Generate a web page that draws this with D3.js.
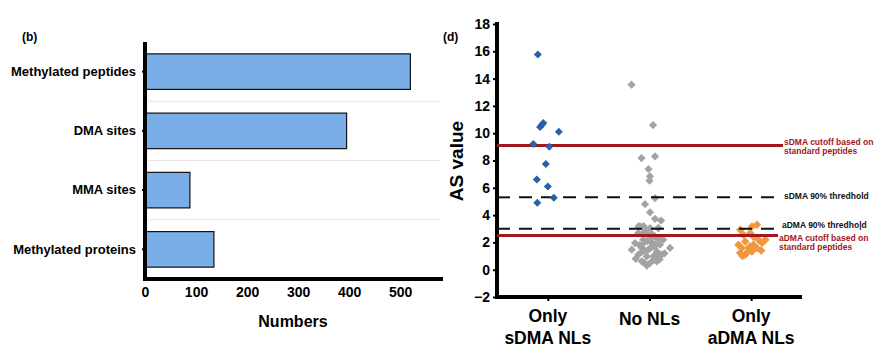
<!DOCTYPE html>
<meta charset="utf-8">
<script src="https://d3js.org/d3.v7.js"></script>
<style>
body { margin: 0; background: white; }
text { font-family: "Liberation Sans", Arial, sans-serif; font-weight: bold; }
</style>
<svg id="chart" width="881" height="349"></svg>
<script>
// panel (b)
var barCats = ["Methylated peptides", "DMA sites", "MMA sites", "Methylated proteins"];
var barVals = [520, 395, 88, 135];
var barTicks = [0, 100, 200, 300, 400, 500];

// panel (d)
var groups = ["Only sDMA NLs", "No NLs", "Only aDMA NLs"];
var groupLines = [["Only", "sDMA NLs"], ["No NLs"], ["Only", "aDMA NLs"]];
var asTicks = [-2, 0, 2, 4, 6, 8, 10, 12, 14, 16, 18];
var sdmaVals = [15.77, 10.45, 10.75, 10.6, 10.1, 9.2, 9.0, 7.74, 6.6, 6.1, 5.27, 4.9];
var sdmaJit  = [-0.4, -0.31, -0.18, -0.24, 0.44, -0.58, 0.06, -0.08, -0.44, 0, 0.24, -0.42];
var noneVals = [13.55, 10.6, 8.18, 8.3, 7.37, 6.84, 6.52, 5.25, 4.8, 4.2, 3.73, 3.6, 3.17, 3.2, 3.05,
  3.17, 3.05, 3.05, 2.68, 2.56, 2.44, 2.2, 2.2, 1.95, 1.95, 1.83, 1.59, 1.47, 1.59, 1.47, 1.34,
  1.1, 0.97, 0.97, 1.1, 0.61, 0.49, 0.61, 0.3, 1.4, 2.0, 1.7, 2.3, 0.8, 1.2, 2.6, 1.8, 0.75,
  2.9, 2.5, 2.1, 1.6, 1.3, 0.9, 0.5, 2.7, 2.3, 1.9, 1.2, 0.7];
var noneJit  = [-0.72, 0.14, -0.32, 0.22, -0.04, 0.02, 0, 0.22, -0.18, 0.02, 0.22, 0.46, -0.44, -0.24, 0.36,
  -0.38, 0.02, 0.35, -0.45, -0.05, 0.22, 0.55, -0.25, -0.58, 0.09, 0.42, 0.82, -0.71, -0.31, -0.05, 0.29,
  -0.45, -0.11, 0.15, 0.49, -0.31, 0.02, 0.29, -0.11, -0.2, -0.2, 0.2, 0.1, -0.55, 0.6, 0.1, -0.4, 0.4,
  -0.15, 0.08, -0.1, 0.05, -0.3, 0.25, -0.2, -0.25, 0.35, 0.25, 0.3, 0.15];
var admaVals = [3.17, 2.93, 3.3, 2.56, 2.68, 2.2, 2.07, 1.83, 1.83, 1.95, 1.59, 1.59, 1.59, 1.22, 1.1, 1.34, 2.2, 1.4, 1.0, 2.4, 1.7, 1.3];
var admaJit  = [0.03, -0.44, 0.23, -0.31, -0.04, 0.29, -0.24, -0.51, 0.09, 0.43, -0.38, -0.11, 0.23, -0.44, -0.24, 0.03, 0.57, 0.4, -0.35, 0.1, -0.05, -0.15];
var refVals   = [9.1, 5.3, 3.0, 2.5];
var refDashed = [false, true, true, false];
var refLabels = [["sDMA cutoff based on", "standard peptides"], ["sDMA 90% thredhold"],
                 ["aDMA 90% thredho|d"], ["aDMA cutoff based on", "standard peptides"]];

var svg = d3.select("#chart");
var red = "#a3161c";

// ---------- (b) bar chart ----------
var bx = d3.scaleLinear().domain([0, 580]).range([145, 441]);
var by = d3.scaleBand().domain(barCats).range([42, 279]).paddingInner(0.4).paddingOuter(0.2);

var gb = svg.append("g");
// light separators between bands
gb.selectAll("line.sep").data(barCats.slice(1)).enter().append("line")
  .attr("x1", 148).attr("x2", 440)
  .attr("y1", d => by(d) - by.step() * by.paddingInner() / 2)
  .attr("y2", d => by(d) - by.step() * by.paddingInner() / 2)
  .attr("stroke", "#e6e6e6").attr("stroke-width", 1);

gb.selectAll("rect").data(barVals).enter().append("rect")
  .attr("x", bx(0))
  .attr("y", (d, i) => by(barCats[i]))
  .attr("width", d => bx(d) - bx(0))
  .attr("height", by.bandwidth())
  .attr("fill", "#7aaee6")
  .attr("stroke", "#111").attr("stroke-width", 1.2);

var xAxB = gb.append("g").attr("transform", "translate(0,279)")
  .call(d3.axisBottom(bx).tickValues(barTicks).tickSize(0).tickPadding(8));
xAxB.select(".domain").attr("stroke", "#000").attr("stroke-width", 4).attr("d", "M143,0H443");
xAxB.selectAll("text").attr("font-size", 14).attr("fill", "#000");

var yAxB = gb.append("g").attr("transform", "translate(145,0)")
  .call(d3.axisLeft(by).tickSize(3).tickPadding(6));
yAxB.select(".domain").attr("stroke", "#000").attr("stroke-width", 4).attr("d", "M0,42V281");
yAxB.selectAll(".tick line").attr("stroke", "#000").attr("stroke-width", 2);
yAxB.selectAll("text").attr("font-size", 13).attr("fill", "#000");

gb.append("text").attr("x", 293).attr("y", 327).attr("text-anchor", "middle")
  .attr("font-size", 16).text("Numbers");
gb.append("text").attr("x", 22).attr("y", 41).attr("font-size", 12).text("(b)");

// ---------- (d) scatter ----------
var dx = d3.scalePoint().domain(groups).range([497, 802]).padding(0.5);
var dy = d3.scaleLinear().domain([-2, 18]).range([297, 24]);
var jit = d3.scaleLinear().domain([-1, 1]).range([-25, 25]);

var gd = svg.append("g");

var yAxD = gd.append("g").attr("transform", "translate(497,0)")
  .call(d3.axisLeft(dy).tickValues(asTicks).tickSize(4).tickPadding(3));
yAxD.select(".domain").attr("stroke", "#000").attr("stroke-width", 4).attr("d", "M0,22V299");
yAxD.selectAll(".tick line").attr("stroke", "#000").attr("stroke-width", 2);
yAxD.selectAll("text").attr("font-size", 14).attr("fill", "#000");

var xAxD = gd.append("g").attr("transform", "translate(0,297)")
  .call(d3.axisBottom(dx).tickSize(4).tickFormat(""));
xAxD.select(".domain").attr("stroke", "#000").attr("stroke-width", 4).attr("d", "M495,0H802");
xAxD.selectAll(".tick line").attr("stroke", "#000").attr("stroke-width", 2);

groups.forEach(function (g, i) {
  var lines = groupLines[i];
  var t = gd.append("text").attr("text-anchor", "middle").attr("font-size", 17.5)
    .attr("x", dx(g)).attr("y", lines.length > 1 ? 322 : 325);
  lines.forEach(function (l, k) {
    t.append("tspan").attr("x", dx(g)).attr("dy", k ? 22 : 0).text(l);
  });
});

gd.append("text").attr("transform", "translate(463,161) rotate(-90)")
  .attr("text-anchor", "middle").attr("font-size", 19).text("AS value");
gd.append("text").attr("x", 443).attr("y", 41).attr("font-size", 12).text("(d)");

// points
var diamond = d3.symbol().type(d3.symbolSquare);
function drawPts(vals, jits, grp, color, sz) {
  gd.append("g").selectAll("path").data(vals).enter().append("path")
    .attr("d", diamond.size(sz)())
    .attr("transform", (d, i) => "translate(" + (dx(grp) + jit(jits[i])) + "," + dy(d) + ") rotate(45)")
    .attr("fill", color);
}
drawPts(noneVals, noneJit, groups[1], "#a3a3a3", 34);
drawPts(admaVals, admaJit, groups[2], "#f1973e", 36);

// reference lines
var refEnd = [783, 783, 781, 778];
var labelShift = [0, 1.5, -1, 5.5];
refVals.forEach(function (v, i) {
  var dashed = refDashed[i];
  gd.append("line").attr("x1", 497).attr("x2", refEnd[i])
    .attr("y1", dy(v)).attr("y2", dy(v))
    .attr("stroke", dashed ? "#111" : red)
    .attr("stroke-width", dashed ? 2 : 3)
    .attr("stroke-dasharray", dashed ? "13,9" : null);
  var t = gd.append("text").attr("font-size", 8.5).attr("font-weight", "normal")
    .attr("fill", dashed ? "#111" : red)
    .attr("x", refEnd[i] + 1).attr("y", dy(v) + labelShift[i]);
  refLabels[i].forEach(function (l, k) {
    t.append("tspan").attr("x", refEnd[i] + 1).attr("dy", k ? 8.5 : 0).text(l);
  });
});

drawPts(sdmaVals, sdmaJit, groups[0], "#2762a6", 32);
</script>
</html>
